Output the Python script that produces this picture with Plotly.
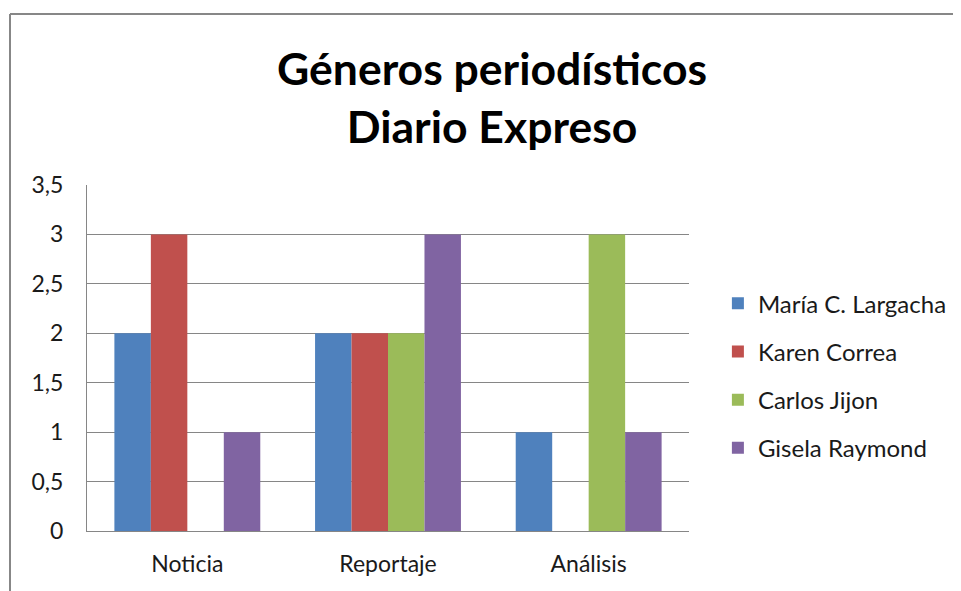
import plotly.graph_objects as go

categories = ["Noticia", "Reportaje", "Análisis"]
maria = [2, 2, 1]
karen = [3, 2, 0]
carlos = [0, 2, 3]
gisela = [1, 3, 1]

series = [
    ("María C. Largacha", maria, "#4F81BD"),
    ("Karen Correa", karen, "#C0504D"),
    ("Carlos Jijon", carlos, "#9BBB59"),
    ("Gisela Raymond", gisela, "#8064A2"),
]

fig = go.Figure()
for i, (name, vals, color) in enumerate(series):
    fig.add_trace(go.Bar(x=categories, y=vals, name=name, marker_color=color,
                         marker_line_width=0, legendgroup=str(i)))

font = "Lato, 'Open Sans', sans-serif"
border = dict(color="#878787", width=2)

# page body has an 8px margin, so the figure is 953x583 and the
# plot area sits at x 79..681, y 177..523 inside it
fig.update_layout(
    width=953, height=583,
    margin=dict(l=79, r=272, t=177, b=60, autoexpand=False),
    paper_bgcolor="white", plot_bgcolor="white",
    separators=", ",
    barmode="group", bargap=0.273, bargroupgap=0,
    font=dict(family=font, size=23, color="#1a1a1a"),
    legend=dict(x=1.048, xanchor="left", y=0.449, yanchor="middle",
                tracegroupgap=14, font=dict(size=24),
                itemwidth=30, traceorder="grouped"),
    xaxis=dict(showline=True, linecolor="#868686", linewidth=1,
               showgrid=False, ticks="", ticklabelstandoff=12),
    yaxis=dict(range=[0, 3.5], dtick=0.5, showline=True, linecolor="#868686",
               linewidth=1, gridcolor="#868686", gridwidth=1, zeroline=False,
               ticks="", ticklabelstandoff=18),
    annotations=[dict(text="<b>Géneros periodísticos<br>Diario Expreso</b>",
                      xref="paper", yref="paper", x=(484 - 79) / 602,
                      y=(523 - 88.5) / 346, xanchor="center", yanchor="middle",
                      showarrow=False,
                      font=dict(family=font, size=44.5, color="black"))],
    shapes=[
        dict(type="line", xref="paper", yref="paper",
             x0=(2 - 79) / 602, x1=1.6, y0=(523 - 6) / 346, y1=(523 - 6) / 346,
             line=border, layer="below"),
        dict(type="line", xref="paper", yref="paper",
             x0=(2 - 79) / 602, x1=(2 - 79) / 602, y0=-0.4, y1=(523 - 6) / 346,
             line=border, layer="below"),
    ],
)

fig.write_html("out.html", config={"displayModeBar": False})
